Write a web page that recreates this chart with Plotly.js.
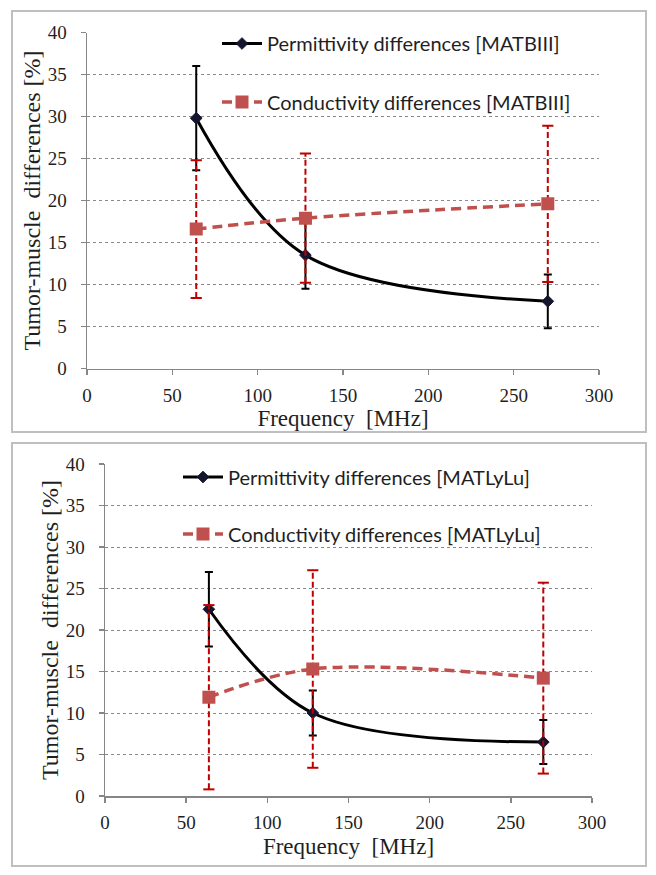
<!DOCTYPE html>
<html>
<head>
<meta charset="utf-8">
<script src="https://cdn.plot.ly/plotly-3.0.1.min.js"></script>
<style>html,body{margin:0;padding:0;background:#fff;}#chart{width:656px;height:875px;}</style>
</head>
<body>
<div id="chart"></div>
<script>
// ---- data ----
const freq = [64, 128, 270];
const xTicks = [0, 50, 100, 150, 200, 250, 300];
const yTicks = [0, 5, 10, 15, 20, 25, 30, 35, 40];

// MATBIII (top)
const permB = [29.8, 13.5, 8.0];
const permBErr = [6.2, 4.0, 3.2];
const condB = [16.6, 17.9, 19.6];
const condBErr = [8.2, 7.7, 9.3];

// MATLyLu (bottom)
const permL = [22.5, 10.0, 6.5];
const permLErr = [4.5, 2.7, 2.65];
const condL = [11.9, 15.3, 14.2];
const condLErr = [11.1, 11.9, 11.5];

const names = {
  permB: 'Permittivity differences [MATBIII]',
  condB: 'Conductivity differences [MATBIII]',
  permL: 'Permittivity differences [MATLyLu]',
  condL: 'Conductivity differences [MATLyLu]'
};

const BLACK = '#000000';
const RED = '#c0504d';
const RED_ERR = '#c00000';
const W = 656, H = 875;

function errSegments(x, y, e) {
  const xs = [], ys = [];
  for (let i = 0; i < x.length; i++) {
    xs.push(x[i], x[i], null);
    ys.push(y[i] - e[i], y[i] + e[i], null);
  }
  return {xs, ys};
}
function errCaps(x, y, e) {
  const xs = [], ys = [];
  for (let i = 0; i < x.length; i++) {
    xs.push(x[i], x[i]);
    ys.push(y[i] - e[i], y[i] + e[i]);
  }
  return {xs, ys};
}

function panelTraces(perm, permErr, cond, condErr, nPerm, nCond, xa, ya, lgP, lgC) {
  const seg = errSegments(freq, cond, condErr);
  const cap = errCaps(freq, cond, condErr);
  return [
    {
      x: freq, y: perm, name: nPerm, type: 'scatter', mode: 'lines+markers',
      xaxis: xa, yaxis: ya, legend: lgP,
      line: {color: BLACK, width: 3, shape: 'spline', smoothing: 1},
      marker: {symbol: 'diamond', size: 9, color: '#151530', line: {color: '#151530', width: 1}},
      error_y: {type: 'data', array: permErr, visible: true, color: BLACK, thickness: 2, width: 4}
    },
    {
      x: seg.xs, y: seg.ys, type: 'scatter', mode: 'lines', showlegend: false, hoverinfo: 'skip',
      xaxis: xa, yaxis: ya,
      line: {color: RED_ERR, width: 2, dash: '6px,3px'}
    },
    {
      x: cap.xs, y: cap.ys, type: 'scatter', mode: 'markers', showlegend: false, hoverinfo: 'skip',
      xaxis: xa, yaxis: ya,
      marker: {symbol: 'line-ew', size: 8, line: {color: RED_ERR, width: 2}}
    },
    {
      x: freq, y: cond, name: nCond, type: 'scatter', mode: 'lines+markers',
      xaxis: xa, yaxis: ya, legend: lgC,
      line: {color: RED, width: 3.5, shape: 'spline', smoothing: 1, dash: '10px,6px'},
      marker: {symbol: 'square', size: 13, color: RED}
    }
  ];
}

const data = [
  ...panelTraces(permB, permBErr, condB, condBErr, names.permB, names.condB, 'x', 'y', 'legend', 'legend2'),
  ...panelTraces(permL, permLErr, condL, condLErr, names.permL, names.condL, 'x2', 'y2', 'legend3', 'legend4')
];

const tickFont = {family: 'Liberation Serif, Times New Roman, serif', size: 19, color: '#1f1f1f'};
const titleFont = {family: 'Liberation Serif, Times New Roman, serif', size: 24, color: '#1f1f1f'};
const xTitleFont = {family: 'Liberation Serif, Times New Roman, serif', size: 23, color: '#1f1f1f'};
const legFont = {family: 'Lato, Carlito, sans-serif', size: 20, color: '#1f1f1f'};

function xAxis(domain, anchor) {
  return {
    domain: domain, anchor: anchor, range: [0, 300], tickvals: xTicks,
    showgrid: false, zeroline: false, showline: true, linecolor: '#868686', linewidth: 1.5,
    ticks: 'outside', ticklen: 5, tickcolor: '#868686', tickwidth: 1.5,
    tickfont: tickFont, ticklabelstandoff: 4,
    title: {text: 'Frequency  [MHz]', font: xTitleFont, standoff: 5}
  };
}
function yAxis(domain, anchor) {
  return {
    domain: domain, anchor: anchor, range: [0, 40], tickvals: yTicks,
    showgrid: true, gridcolor: '#8a8a8a', gridwidth: 1, griddash: 'dot',
    zeroline: false, showline: true, linecolor: '#868686', linewidth: 1.5,
    ticks: 'outside', ticklen: 5, tickcolor: '#868686', tickwidth: 1.5,
    tickfont: tickFont, ticklabelstandoff: 10,
    title: {text: 'Tumor-muscle  differences [%]', font: titleFont, standoff: 0}
  };
}
function legend(xpx, ypx) {
  return {x: xpx / W, y: 1 - ypx / H, xanchor: 'left', yanchor: 'middle', itemwidth: 40,
    bgcolor: 'rgba(0,0,0,0)', borderwidth: 0, font: legFont};
}

const layout = {
  width: W, height: H,
  margin: {l: 0, r: 0, t: 0, b: 0},
  paper_bgcolor: '#ffffff', plot_bgcolor: 'rgba(0,0,0,0)',
  xaxis: xAxis([87 / W, 599 / W], 'y'),
  yaxis: yAxis([1 - 368.5 / H, 1 - 32.5 / H], 'x'),
  xaxis2: xAxis([105 / W, 592 / W], 'y2'),
  yaxis2: yAxis([1 - 796 / H, 1 - 464 / H], 'x2'),
  legend: legend(217, 43.5),
  legend2: legend(217, 102),
  legend3: legend(178, 477),
  legend4: legend(178, 534),
  shapes: [
    {type: 'rect', xref: 'paper', yref: 'paper', x0: 12 / W, x1: 646 / W, y0: 1 - 432 / H, y1: 1 - 11 / H,
     line: {color: '#bfbfbf', width: 2}, layer: 'below'},
    {type: 'rect', xref: 'paper', yref: 'paper', x0: 12 / W, x1: 646 / W, y0: 1 - 866 / H, y1: 1 - 443 / H,
     line: {color: '#bfbfbf', width: 2}, layer: 'below'}
  ]
};

Plotly.newPlot('chart', data, layout, {displayModeBar: false, staticPlot: true});
</script>
</body>
</html>
